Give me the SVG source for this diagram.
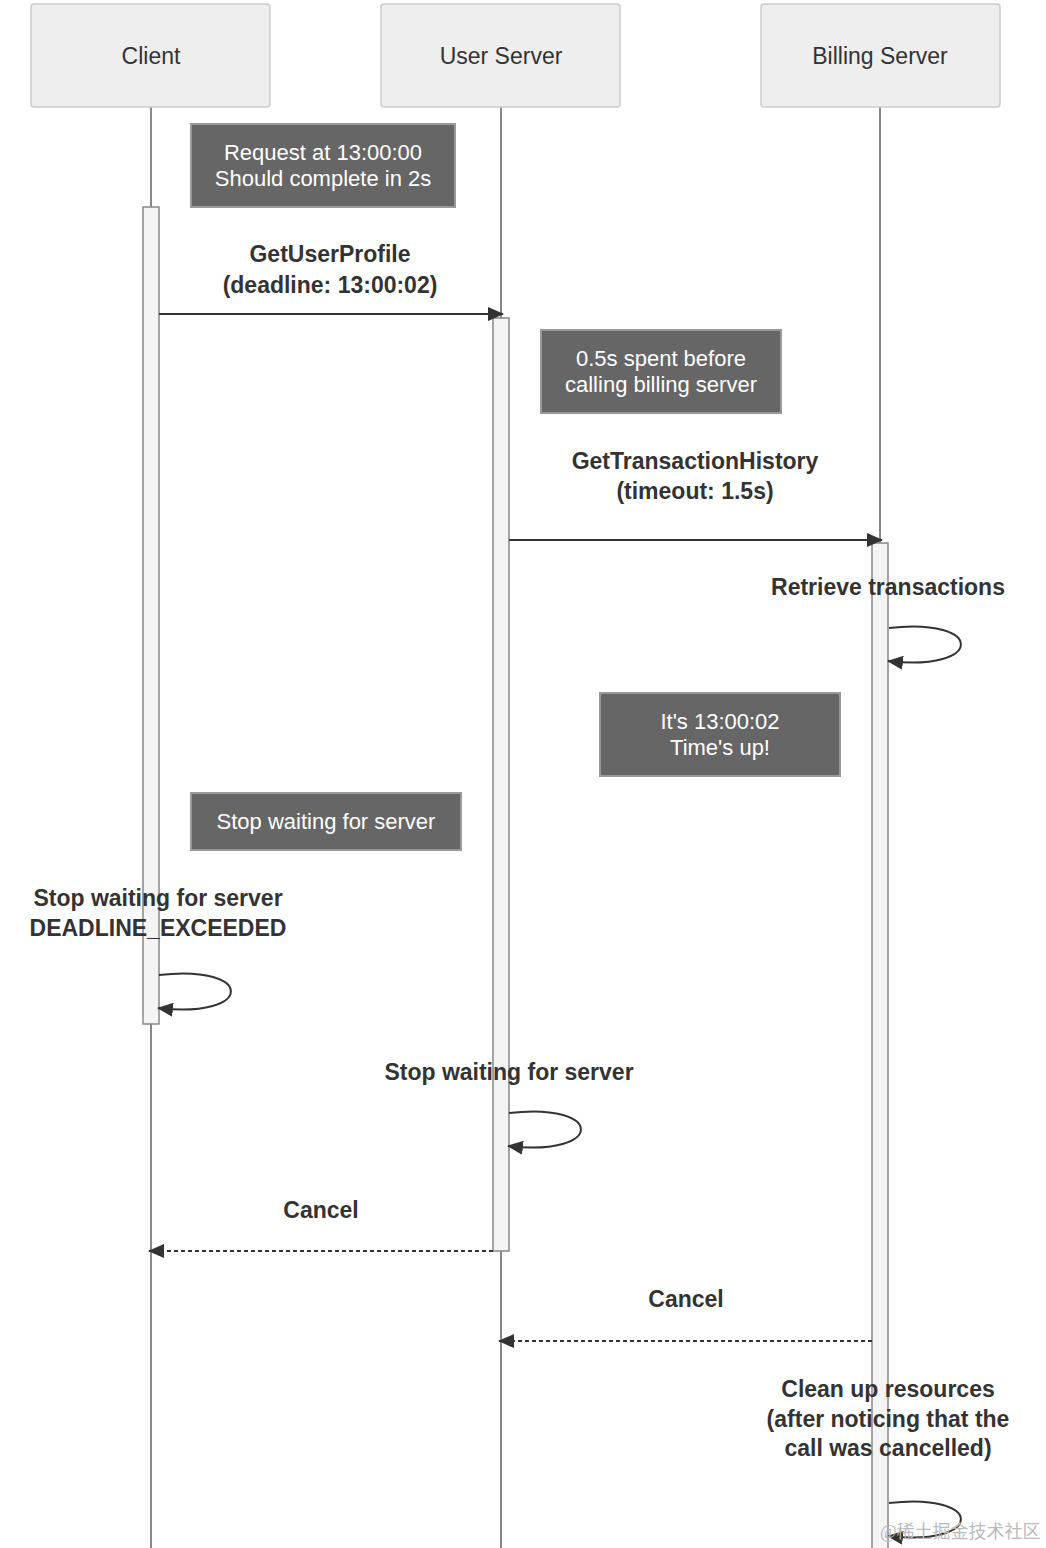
<svg xmlns="http://www.w3.org/2000/svg" width="1046" height="1548" viewBox="0 0 1046 1548">
<defs>
<style>
.actor{fill:#eeeeee;stroke:#cccccc;stroke-width:1.5}
.actorText{font-family:"Liberation Sans",Arial,sans-serif;font-size:23px;fill:#333;text-anchor:middle}
.life{stroke:#888;stroke-width:2}
.act{fill:#f4f4f4;stroke:#888;stroke-width:1.5}
.note{fill:#666666;stroke:#999;stroke-width:2}
.noteText{font-family:"Liberation Sans",Arial,sans-serif;font-size:22px;fill:#ffffff;text-anchor:middle}
.msgText{font-family:"Liberation Sans",Arial,sans-serif;font-size:23px;font-weight:bold;fill:#333;text-anchor:middle}
.msg{stroke:#333;stroke-width:2;fill:none}
.dash{stroke-dasharray:4 3}
</style>
<marker id="arrow" viewBox="0 0 16 14" refX="15" refY="7" markerWidth="16" markerHeight="14" markerUnits="userSpaceOnUse" orient="auto">
<path d="M0,0 L16,7 L0,14 z" fill="#333"/>
</marker>
</defs>
<rect width="1046" height="1548" fill="#ffffff"/>

<g id="lifelines">
<line class="life" x1="151" y1="107" x2="151" y2="1548"/>
<line class="life" x1="501" y1="107" x2="501" y2="1548"/>
<line class="life" x1="880" y1="107" x2="880" y2="1548"/>
</g>

<g id="actor-client"><rect class="actor" x="31" y="4" width="239" height="103" rx="3"/><text class="actorText" x="151" y="64">Client</text></g>
<g id="actor-user"><rect class="actor" x="381" y="4" width="239" height="103" rx="3"/><text class="actorText" x="501" y="64">User Server</text></g>
<g id="actor-billing"><rect class="actor" x="761" y="4" width="239" height="103" rx="3"/><text class="actorText" x="880" y="64">Billing Server</text></g>

<g id="activations">
<rect class="act" x="143" y="207" width="16" height="817"/>
<rect class="act" x="493" y="318" width="16" height="933"/>
<rect class="act" x="872" y="543" width="16" height="1010"/>
</g>

<g id="note-request"><rect class="note" x="191" y="124" width="264" height="83"/><text class="noteText" x="323" y="160">Request at 13:00:00</text><text class="noteText" x="323" y="186">Should complete in 2s</text></g>
<g id="note-spent"><rect class="note" x="541" y="330" width="240" height="83"/><text class="noteText" x="661" y="366">0.5s spent before</text><text class="noteText" x="661" y="392">calling billing server</text></g>
<g id="note-timeup"><rect class="note" x="600" y="693" width="240" height="83"/><text class="noteText" x="720" y="729">It's 13:00:02</text><text class="noteText" x="720" y="755">Time's up!</text></g>
<g id="note-stop"><rect class="note" x="191" y="793" width="270" height="57"/><text class="noteText" x="326" y="829">Stop waiting for server</text></g>

<g id="connectors">
<path class="msg" d="M159,314 L503,314" marker-end="url(#arrow)"/>
<path class="msg" d="M509,540 L882,540" marker-end="url(#arrow)"/>
<path class="msg" d="M889,628 C985,617 985,672 888,661" marker-end="url(#arrow)"/>
<path class="msg" d="M159,975 C255,964 255,1019 158,1008" marker-end="url(#arrow)"/>
<path class="msg" d="M509,1113 C605,1102 605,1157 508,1146" marker-end="url(#arrow)"/>
<path class="msg dash" d="M493,1251 L149,1251" marker-end="url(#arrow)"/>
<path class="msg dash" d="M872,1341 L499,1341" marker-end="url(#arrow)"/>
<path class="msg" d="M889,1503 C985,1492 985,1547 888,1536" marker-end="url(#arrow)"/>
</g>

<g id="labels">
<text class="msgText" x="330" y="262">GetUserProfile</text>
<text class="msgText" x="330" y="293">(deadline: 13:00:02)</text>
<text class="msgText" x="695" y="469">GetTransactionHistory</text>
<text class="msgText" x="695" y="499">(timeout: 1.5s)</text>
<text class="msgText" x="888" y="595">Retrieve transactions</text>
<text class="msgText" x="158" y="906">Stop waiting for server</text>
<text class="msgText" x="158" y="936">DEADLINE_EXCEEDED</text>
<text class="msgText" x="509" y="1080">Stop waiting for server</text>
<text class="msgText" x="321" y="1218">Cancel</text>
<text class="msgText" x="686" y="1307">Cancel</text>
<text class="msgText" x="888" y="1397">Clean up resources</text>
<text class="msgText" x="888" y="1427">(after noticing that the</text>
<text class="msgText" x="888" y="1456">call was cancelled)</text>
</g>

<text x="880" y="1538" font-family="'Liberation Serif','Noto Sans CJK SC',serif" font-size="18" fill="#bbbbbb">@稀土掘金技术社区</text>
</svg>
